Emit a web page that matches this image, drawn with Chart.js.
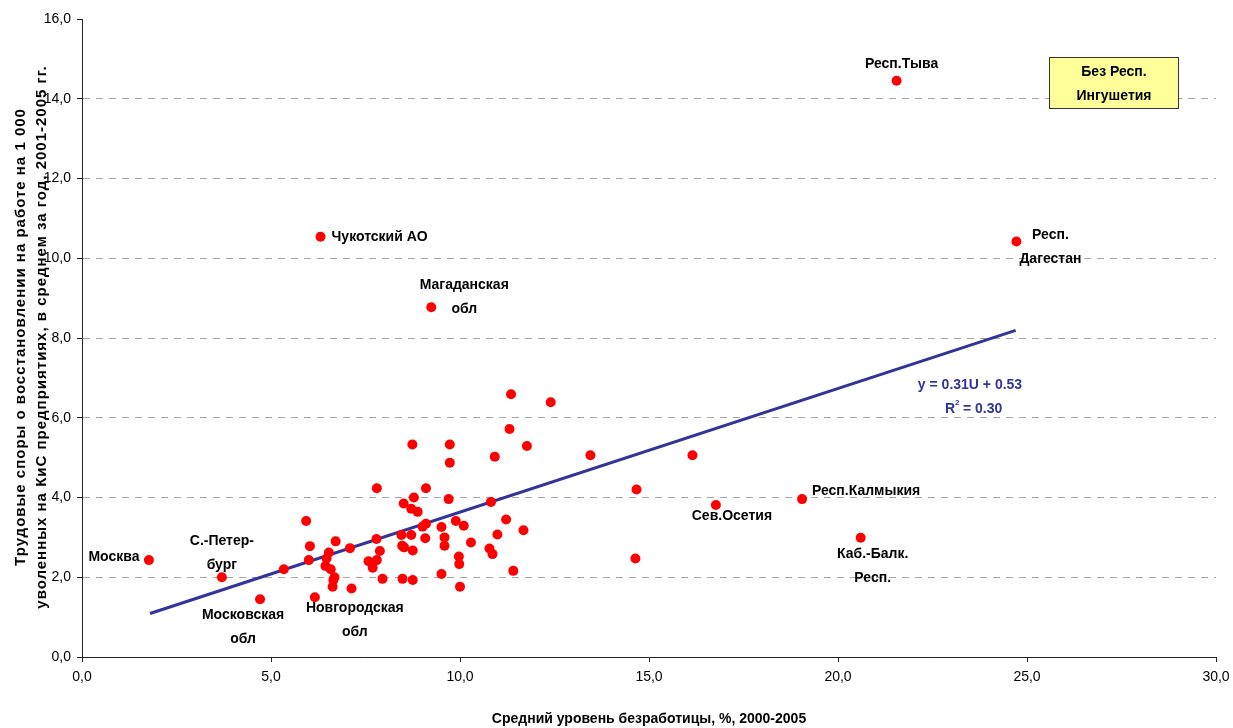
<!DOCTYPE html>
<html>
<head>
<meta charset="utf-8">
<script src="https://cdn.jsdelivr.net/npm/chart.js@4.4.0/dist/chart.umd.min.js"></script>
<style>
  html, body { margin: 0; padding: 0; background: #fff; }
  #wrap { width: 1233px; height: 728px; }
</style>
</head>
<body>
<div id="wrap"><canvas id="scatter" width="1233" height="728"></canvas></div>
<script>
// unemployment, %, 2000-2005 (x) and labour disputes per 1000 dismissed (y)
const unemployment = [
    1.77, 3.70, 4.71, 6.16, 6.31, 9.24, 21.55, 24.72, 19.05, 20.60, 16.77,
    5.34, 6.03, 5.93, 6.00, 6.71, 6.53, 6.47, 6.44, 6.58, 6.68, 6.65, 6.63,
    7.13, 7.09, 7.80, 7.79, 7.88, 7.58, 7.80, 7.69, 7.95, 8.74, 9.73, 9.73,
    9.10, 8.78, 8.51, 8.71, 8.88, 9.70, 9.89, 9.51, 9.10, 9.01, 9.08, 8.71,
    8.45, 8.47, 8.52, 8.75, 8.48, 8.75, 9.59, 9.59, 9.51, 9.97, 9.98, 10.00,
    11.35, 12.40, 11.31, 11.77, 10.92, 13.45, 10.82, 11.22, 11.68, 10.99,
    10.29, 10.10, 10.78, 10.86, 11.41, 16.15, 14.67, 14.64
];
const disputes = [
    2.43, 2.00, 1.45, 1.50, 10.54, 8.77, 14.45, 10.42, 3.96, 2.99, 3.81,
    2.20, 2.78, 3.41, 2.43, 2.90, 2.62, 2.47, 2.28, 2.20, 2.00, 1.93, 1.76,
    1.72, 2.73, 4.23, 2.96, 2.66, 2.40, 2.43, 2.24, 1.96, 5.33, 5.33, 4.87,
    4.23, 4.00, 3.85, 3.72, 3.64, 3.96, 3.41, 3.26, 3.34, 3.27, 2.98, 3.06,
    3.06, 2.79, 2.75, 2.67, 1.96, 1.93, 3.00, 2.79, 2.08, 2.52, 2.33, 1.76,
    6.59, 6.39, 5.72, 5.29, 5.02, 5.06, 3.89, 3.45, 3.18, 3.07,
    2.87, 3.29, 2.72, 2.58, 2.16, 5.06, 4.20, 2.47
];
// regions named on the chart: point index -> text lines
const regionNames = [
    [0, ['Москва']],
    [1, ['С.-Петер-', 'бург']],
    [2, ['Московская', 'обл']],
    [3, ['Новгородская', 'обл']],
    [4, ['Чукотский АО']],
    [5, ['Магаданская', 'обл']],
    [6, ['Респ.Тыва']],
    [7, ['Респ.', 'Дагестан']],
    [8, ['Респ.Калмыкия']],
    [9, ['Каб.-Балк.', 'Респ.']],
    [10, ['Сев.Осетия']]
];
// fitted line y = 0.31U + 0.53, ends as drawn
const trendX = [1.8, 24.7];
const trendY = [1.09, 8.19];
const xTicks = [0, 5, 10, 15, 20, 25, 30];
const yTicks = [0, 2, 4, 6, 8, 10, 12, 14, 16];
const yTitle = ['Трудовые споры о восстановлении на работе на 1 000',
                'уволенных на КиС предприятиях, в среднем за год, 2001-2005 гг.'];

// where each name sits relative to its dot, in pixels
const nameOffsets = {
    0: [-35, -3], 1: [0, -36], 2: [-17, 16], 3: [40, 11], 4: [59, 0],
    5: [33, -22], 6: [5, -17], 7: [34, -6], 8: [64, -8], 9: [12, 16], 10: [16, 11]
};

const points = unemployment.map((u, i) => ({ x: u, y: disputes[i] }));
const trend = trendX.map((u, i) => ({ x: u, y: trendY[i] }));
const comma = v => v.toFixed(1).replace('.', ',');
const FONT = '"Liberation Sans", Arial, sans-serif';

const textPlugin = {
    id: 'chartTexts',
    afterDatasetsDraw(chart) {
        const ctx = chart.ctx;
        const xs = chart.scales.x, ys = chart.scales.y;
        ctx.save();
        ctx.font = 'bold 14px ' + FONT;
        ctx.fillStyle = '#000';
        ctx.textAlign = 'center';
        ctx.textBaseline = 'middle';
        regionNames.forEach(([idx, lines]) => {
            const px = xs.getPixelForValue(unemployment[idx]);
            const py = ys.getPixelForValue(disputes[idx]);
            const off = nameOffsets[idx];
            lines.forEach((line, k) => {
                ctx.fillText(line, px + off[0], py + off[1] + k * 24);
            });
        });

        // equation
        ctx.fillStyle = '#333399';
        ctx.fillText('y = 0.31U + 0.53', 970, 385);
        ctx.textAlign = 'left';
        ctx.fillText('R', 945, 409);
        const rw = ctx.measureText('R').width;
        ctx.fillText(' = 0.30', 945 + rw + 4, 409);
        ctx.font = 'bold 8px ' + FONT;
        ctx.fillText('2', 945 + rw, 403);

        // note box
        ctx.textAlign = 'center';
        ctx.fillStyle = '#FFFF99';
        ctx.fillRect(1049.5, 57.5, 129, 51);
        ctx.strokeStyle = '#333';
        ctx.lineWidth = 1;
        ctx.strokeRect(1049.5, 57.5, 129, 51);
        ctx.fillStyle = '#000';
        ctx.font = 'bold 14px ' + FONT;
        ctx.fillText('Без Респ.', 1114, 72);
        ctx.fillText('Ингушетия', 1114, 96);

        // y axis title, two rotated lines
        ctx.translate(0, 337);
        ctx.rotate(-Math.PI / 2);
        ctx.font = 'bold 15px ' + FONT;
        ctx.letterSpacing = '1px';
        ctx.fillText(yTitle[0], 0, 21);
        ctx.fillText(yTitle[1], 0, 42);
        ctx.restore();
    }
};

new Chart(document.getElementById('scatter'), {
    type: 'scatter',
    data: {
        datasets: [
            {
                label: 'Регионы',
                data: points,
                backgroundColor: '#FF0000',
                borderWidth: 0,
                pointRadius: 5,
                pointHoverRadius: 5,
                order: 1
            },
            {
                label: 'Тренд',
                type: 'line',
                data: trend,
                borderColor: '#333399',
                borderWidth: 3,
                pointRadius: 0,
                fill: false,
                order: 2
            }
        ]
    },
    options: {
        responsive: false,
        animation: false,
        events: [],
        layout: { padding: { top: 19, right: 17, left: 0, bottom: 0 } },
        plugins: { legend: { display: false }, tooltip: { enabled: false } },
        scales: {
            x: {
                type: 'linear',
                min: 0, max: 30,
                afterBuildTicks: s => { s.ticks = xTicks.map(v => ({ value: v })); },
                afterFit: s => { s.height = 71; s.paddingLeft = 0; s.paddingRight = 0; },
                ticks: {
                    callback: v => comma(v),
                    color: '#000',
                    font: { family: FONT, size: 14 },
                    padding: 7,
                    maxRotation: 0
                },
                grid: { drawOnChartArea: false, tickLength: 5, tickColor: '#222' },
                border: { color: '#222', width: 1 },
                title: {
                    display: true,
                    text: 'Средний уровень безработицы, %, 2000-2005',
                    color: '#000',
                    font: { family: FONT, size: 14, weight: 'bold' },
                    padding: { top: 17, bottom: 0 }
                }
            },
            y: {
                type: 'linear',
                min: 0, max: 16,
                afterBuildTicks: s => { s.ticks = yTicks.map(v => ({ value: v })); },
                afterFit: s => { s.width = 82; },
                ticks: {
                    callback: v => comma(v),
                    color: '#000',
                    font: { family: FONT, size: 14 },
                    padding: 6
                },
                grid: {
                    color: c => (c.tick && (c.tick.value === 0 || c.tick.value === 16)) ? 'rgba(0,0,0,0)' : '#A6A6A6',
                    tickColor: '#222',
                    tickLength: 5
                },
                border: { color: '#222', width: 1, dash: [7, 6] },
                title: { display: false }
            }
        }
    },
    plugins: [textPlugin]
});
</script>
</body>
</html>
